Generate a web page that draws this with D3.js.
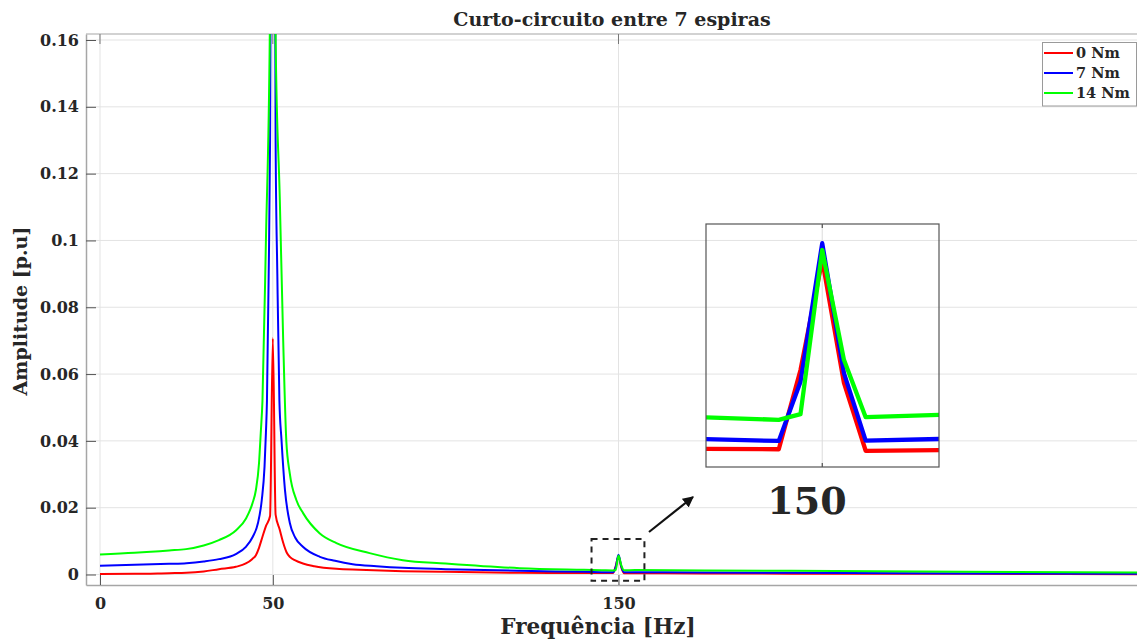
<!DOCTYPE html>
<html>
<head>
<meta charset="utf-8">
<script src="https://cdn.jsdelivr.net/npm/d3@7"></script>
<style>
  html, body { margin: 0; padding: 0; background: #fff; }
  svg { display: block; }
  text { font-family: "DejaVu Serif", "Liberation Serif", serif; font-weight: bold; fill: #262626; }
</style>
</head>
<body>
<svg id="chart" width="1137" height="640"></svg>
<script>
// Spectrum of the stator current, short circuit between 7 turns, three load torques
const seriesNames = ["0 Nm", "7 Nm", "14 Nm"];
const seriesColors = ["#ff0000", "#0000ff", "#00ff00"];

const freq0Nm = [0, 10, 20, 25, 30, 34.4, 39.3, 42.2, 44, 45.1, 46, 47, 48, 49.2, 50, 50.8, 52, 53, 54, 55, 56.5, 58.7, 62, 68.4, 75, 87.6, 100, 121.4, 140, 145.2, 148.4, 149.2, 150, 150.8, 151.6, 154.8, 175, 200, 250, 300];
const amp0Nm  = [0.00015, 0.0002, 0.0004, 0.0005, 0.0009, 0.0016, 0.0023, 0.0033, 0.0046, 0.0058, 0.0080, 0.0113, 0.0145, 0.0175, 0.0707, 0.0179, 0.0134, 0.0095, 0.0066, 0.0052, 0.0042, 0.0033, 0.0025, 0.0017, 0.0014, 0.0010, 0.0008, 0.0005, 0.00045, 0.00043, 0.00042, 0.00252, 0.00544, 0.00218, 0.00038, 0.0004, 0.0003, 0.00025, 0.0002, 0.0001];

const freq7Nm = [0, 10, 20, 25, 30, 34.4, 39.3, 42.2, 44.2, 45.7, 46.8, 47.6, 48, 48.3, 48.8, 49.2, 50, 50.8, 51.3, 51.9, 52.5, 53.5, 54.9, 56.5, 58.7, 63.6, 68, 73.1, 80, 87.6, 100, 121.4, 140, 145.2, 148.4, 149.2, 150, 150.8, 151.6, 154.8, 175, 200, 250, 300];
const amp7Nm  = [0.0026, 0.0029, 0.0032, 0.0034, 0.0039, 0.0046, 0.0061, 0.0083, 0.0113, 0.0154, 0.0223, 0.0323, 0.0424, 0.052, 0.09, 0.13, 0.40, 0.13, 0.09, 0.052, 0.0404, 0.0254, 0.0155, 0.0110, 0.0083, 0.0053, 0.0041, 0.0031, 0.0025, 0.0020, 0.0016, 0.0011, 0.0008, 0.0007, 0.00064, 0.00221, 0.00588, 0.00244, 0.00065, 0.0007, 0.0006, 0.0005, 0.0003, 0.0002];

const freq14Nm = [0, 10, 20, 24.9, 30, 34.4, 39.3, 42.2, 44.1, 45.1, 46, 46.5, 47, 48, 49.2, 50, 50.8, 52, 53, 53.9, 54.9, 56.8, 58.8, 63.6, 68.4, 78, 87.6, 100, 121.4, 140, 145.2, 148.4, 149.2, 150, 150.8, 151.6, 154.8, 175, 200, 250, 300];
const amp14Nm  = [0.0060, 0.0065, 0.0072, 0.0076, 0.0087, 0.0103, 0.0132, 0.0167, 0.0213, 0.0253, 0.0333, 0.0423, 0.052, 0.10, 0.17, 0.60, 0.16, 0.113, 0.07, 0.040, 0.0303, 0.0223, 0.0183, 0.0123, 0.0094, 0.0064, 0.0043, 0.0033, 0.0019, 0.0014, 0.00128, 0.0012, 0.00135, 0.0057, 0.00279, 0.00127, 0.00134, 0.0012, 0.0011, 0.0008, 0.0006];

const xTicks = [0, 50, 150];
const xTickLabels = ["0", "50", "150"];
const yTicks = [0, 0.02, 0.04, 0.06, 0.08, 0.1, 0.12, 0.14, 0.16];
const yTickLabels = ["0", "0.02", "0.04", "0.06", "0.08", "0.1", "0.12", "0.14", "0.16"];

const titleText = "Curto-circuito entre 7 espiras";
const xLabelText = "Frequência [Hz]";
const yLabelText = "Amplitude [p.u]";
const zoomLabelText = "150";
const zoomWindow = [145.72, 154.3];          // Hz shown in the magnified view
const zoomAmpRange = [-0.00005, 0.00639];    // p.u shown in the magnified view
const markerWindow = [142.2, 157.5, -0.0019, 0.0106]; // dashed frame around the 150 Hz component

const series = [
  { name: seriesNames[0], color: seriesColors[0], f: freq0Nm, a: amp0Nm },
  { name: seriesNames[1], color: seriesColors[1], f: freq7Nm, a: amp7Nm },
  { name: seriesNames[2], color: seriesColors[2], f: freq14Nm, a: amp14Nm }
].map(s => ({ ...s, pts: s.f.map((f, i) => ({ f, a: s.a[i] })) }));

const svg = d3.select("#chart");
const W = 1137, H = 640;
const M = { left: 86, right: W, top: 34, bottom: 585 };

const x = d3.scaleLinear().domain([-4.05, 300]).range([M.left, M.right]);
const y = d3.scaleLinear().domain([-0.00314, 0.1618]).range([M.bottom, M.top]);

const defs = svg.append("defs");
defs.append("clipPath").attr("id", "plotClip")
  .append("rect").attr("x", M.left).attr("y", M.top)
  .attr("width", M.right - M.left).attr("height", M.bottom - M.top);

// grid
const grid = svg.append("g").attr("class", "grid");
grid.selectAll("line.gy").data(yTicks).join("line")
  .attr("x1", M.left).attr("x2", M.right)
  .attr("y1", d => y(d)).attr("y2", d => y(d))
  .attr("stroke", "#e3e3e3").attr("stroke-width", 1);
grid.selectAll("line.gx").data(xTicks).join("line")
  .attr("y1", M.top).attr("y2", M.bottom)
  .attr("x1", d => x(d)).attr("x2", d => x(d))
  .attr("stroke", "#e3e3e3").attr("stroke-width", 1);

// frame
svg.append("line").attr("x1", M.left).attr("x2", M.right).attr("y1", M.top).attr("y2", M.top)
  .attr("stroke", "#d2d2d2").attr("stroke-width", 2);

// axes with inward ticks
const yAxis = d3.axisLeft(y).tickValues(yTicks)
  .tickFormat((d, i) => yTickLabels[i]).tickSizeInner(-10).tickSizeOuter(0).tickPadding(7);
const gy = svg.append("g").attr("transform", `translate(${M.left},0)`).call(yAxis);
gy.select(".domain").attr("stroke", "#a6a6a6").attr("stroke-width", 1.5);
gy.selectAll(".tick line").attr("stroke", "#555").attr("stroke-width", 1);
gy.selectAll(".tick text").attr("font-size", 16).attr("font-family", null).attr("fill", "#262626");

const xAxis = d3.axisBottom(x).tickValues(xTicks)
  .tickFormat((d, i) => xTickLabels[i]).tickSizeInner(-10).tickSizeOuter(0).tickPadding(13);
const gx = svg.append("g").attr("transform", `translate(0,${M.bottom})`).call(xAxis);
gx.select(".domain").attr("stroke", "#a6a6a6").attr("stroke-width", 1.5);
gx.selectAll(".tick line").attr("stroke", "#555").attr("stroke-width", 1);
gx.selectAll(".tick text").attr("font-size", 16).attr("font-family", null).attr("fill", "#262626");

// top ticks
svg.append("g").selectAll("line").data(xTicks).join("line")
  .attr("x1", d => x(d)).attr("x2", d => x(d)).attr("y1", M.top).attr("y2", M.top + 10)
  .attr("stroke", "#777").attr("stroke-width", 1);

// spectra
const line = d3.line().x(d => x(d.f)).y(d => y(d.a)).curve(d3.curveMonotoneX);
svg.append("g").attr("clip-path", "url(#plotClip)")
  .selectAll("path").data(series).join("path")
  .attr("d", d => line(d.pts))
  .attr("fill", "none").attr("stroke", d => d.color).attr("stroke-width", 2)
  .attr("stroke-linejoin", "round");

// title and axis labels
svg.append("text").attr("x", 612).attr("y", 26).attr("text-anchor", "middle")
  .attr("font-size", 19).attr("fill", "#111").text(titleText);
svg.append("text").attr("x", 598).attr("y", 634).attr("text-anchor", "middle")
  .attr("font-size", 21.5).text(xLabelText);
svg.append("text").attr("transform", "translate(27,311) rotate(-90)").attr("text-anchor", "middle")
  .attr("font-size", 19).text(yLabelText);

// legend
const lg = svg.append("g");
lg.append("rect").attr("x", 1042.5).attr("y", 42.5).attr("width", 94).attr("height", 63.5)
  .attr("fill", "#fff").attr("stroke", "#9a9a9a").attr("stroke-width", 1);
series.forEach((s, i) => {
  const ly = 53 + i * 20;
  lg.append("line").attr("x1", 1044).attr("x2", 1073).attr("y1", ly).attr("y2", ly)
    .attr("stroke", s.color).attr("stroke-width", 2);
  lg.append("text").attr("x", 1076).attr("y", ly + 5).attr("font-size", 14.5).text(s.name);
});

// dashed frame around the 150 Hz component and pointer to the magnified view
svg.append("rect")
  .attr("x", x(markerWindow[0])).attr("y", y(markerWindow[3]))
  .attr("width", x(markerWindow[1]) - x(markerWindow[0]))
  .attr("height", y(markerWindow[2]) - y(markerWindow[3]))
  .attr("fill", "none").attr("stroke", "#222").attr("stroke-width", 2).attr("stroke-dasharray", "6,5");

defs.append("marker").attr("id", "arrowHead")
  .attr("viewBox", "0 0 10 10").attr("refX", 9).attr("refY", 5)
  .attr("markerWidth", 5).attr("markerHeight", 5).attr("orient", "auto")
  .append("path").attr("d", "M0,0 L10,5 L0,10 Z").attr("fill", "#111");
svg.append("line").attr("x1", 649).attr("y1", 532).attr("x2", 693).attr("y2", 497)
  .attr("stroke", "#111").attr("stroke-width", 2.2).attr("marker-end", "url(#arrowHead)");

// magnified view of the 150 Hz component
const box = { x0: 706, x1: 939, y0: 224, y1: 467 };
const xi = d3.scaleLinear().domain(zoomWindow).range([box.x0, box.x1]);
const yi = d3.scaleLinear().domain(zoomAmpRange).range([box.y1, box.y0]);
defs.append("clipPath").attr("id", "zoomClip")
  .append("rect").attr("x", box.x0).attr("y", box.y0)
  .attr("width", box.x1 - box.x0).attr("height", box.y1 - box.y0);

const zg = svg.append("g");
zg.append("line").attr("x1", xi(150)).attr("x2", xi(150)).attr("y1", box.y0).attr("y2", box.y1)
  .attr("stroke", "#dcdcdc").attr("stroke-width", 1);
zg.append("line").attr("x1", xi(150)).attr("x2", xi(150)).attr("y1", box.y0).attr("y2", box.y0 + 4)
  .attr("stroke", "#333");
zg.append("line").attr("x1", xi(150)).attr("x2", xi(150)).attr("y1", box.y1 - 4).attr("y2", box.y1)
  .attr("stroke", "#333");
const zline = d3.line().x(d => xi(d.f)).y(d => yi(d.a));
zg.append("g").attr("clip-path", "url(#zoomClip)")
  .selectAll("path").data(series).join("path")
  .attr("d", d => zline(d.pts.filter(p => p.f >= 144 && p.f <= 156)))
  .attr("fill", "none").attr("stroke", d => d.color).attr("stroke-width", 4.3)
  .attr("stroke-linejoin", "round");
zg.append("rect").attr("x", box.x0).attr("y", box.y0)
  .attr("width", box.x1 - box.x0).attr("height", box.y1 - box.y0)
  .attr("fill", "none").attr("stroke", "#555").attr("stroke-width", 1.2);
zg.append("text").attr("x", 807).attr("y", 514).attr("text-anchor", "middle")
  .attr("font-size", 38).attr("fill", "#222").text(zoomLabelText);
</script>
</body>
</html>
